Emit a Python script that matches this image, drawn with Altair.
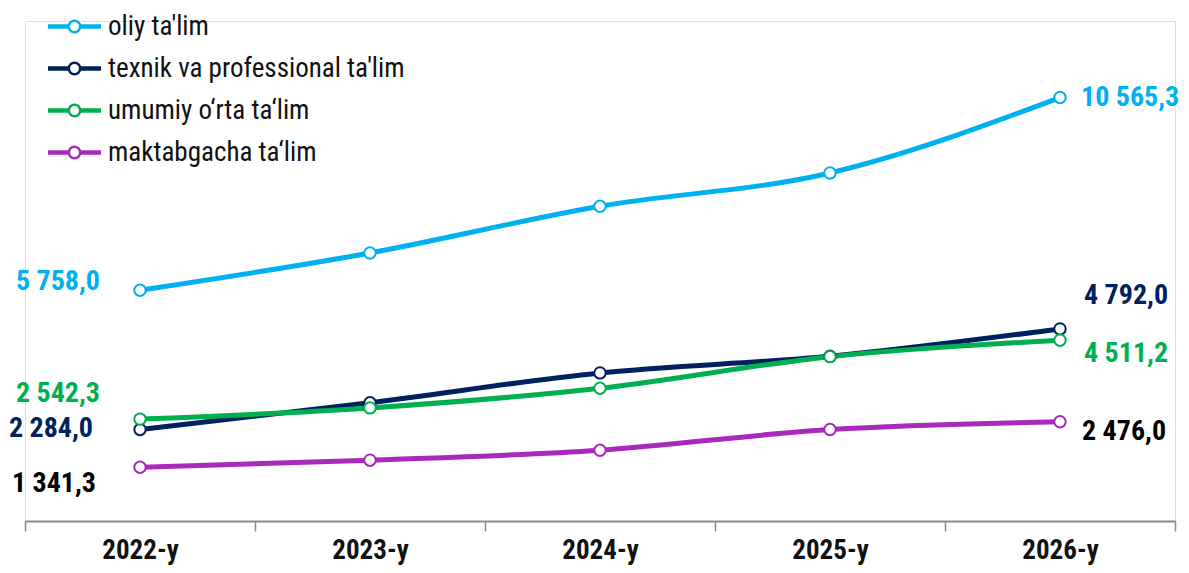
import altair as alt
import pandas as pd

years = ["2022-y", "2023-y", "2024-y", "2025-y", "2026-y"]
series = ["oliy ta'lim", "texnik va professional ta'lim", "umumiy o‘rta ta‘lim", "maktabgacha ta‘lim"]
colors = ["#00B0F0", "#002060", "#00B050", "#A829BB"]
oliy = [5758.0, 6688, 7853, 8684, 10565.3]
texnik = [2284.0, 2950, 3695, 4111, 4792.0]
umumiy = [2542.3, 2822, 3313, 4100, 4511.2]
maktab = [1341.3, 1517, 1766, 2283, 2476.0]

values = [oliy, texnik, umumiy, maktab]
rows = []
for s, vals in zip(series, values):
    for y, v in zip(years, vals):
        rows.append({"year": y, "series": s, "value": v})
df = pd.DataFrame(rows)


def fmt(v):
    return f"{v:,.1f}".replace(",", " ").replace(".", ",")


df["label"] = df["value"].apply(fmt)

FONT = "Liberation Sans Narrow, Roboto Condensed, Arial Narrow, DejaVu Sans Condensed, sans-serif"

xenc = alt.X(
    "year:N",
    sort=years,
    scale=alt.Scale(type="band", paddingInner=0, paddingOuter=0),
    axis=alt.Axis(
        title=None,
        tickBand="extent",
        domainColor="#8a8a8a",
        domainWidth=2,
        tickColor="#8a8a8a",
        tickWidth=1.5,
        tickSize=10,
        labelFont=FONT,
        labelFontSize=27,
        labelFontWeight="bold",
        labelColor="#111111",
        labelPadding=6,
        labelAngle=0,
    ),
)
yenc = alt.Y("value:Q", scale=alt.Scale(domain=[0, 12475], nice=False, zero=True), axis=None)

sym_path = (
    "M-2,-0.075H-0.45M-2,0.075H-0.45M0.45,-0.075H2M0.45,0.075H2"
    "M-0.43,0A0.43,0.43 0 1,0 0.43,0A0.43,0.43 0 1,0 -0.43,0"
)

color_scale = alt.Scale(domain=series, range=colors)

lines = alt.Chart(df).mark_line(interpolate="monotone", strokeWidth=5).encode(
    x=xenc,
    y=yenc,
    color=alt.Color(
        "series:N",
        scale=color_scale,
        sort=series,
        legend=alt.Legend(
            title=None,
            orient="none",
            legendX=35,
            legendY=-9,
            symbolType=sym_path,
            symbolSize=702,
            symbolStrokeWidth=2.5,
            symbolFillColor="white",
            labelFont=FONT,
            labelFontSize=27,
            labelColor="#111111",
            labelOffset=19,
            rowPadding=14,
            padding=0,
            labelLimit=500,
        ),
    ),
)

points = alt.Chart(df).mark_point(filled=True, fill="white", size=130, strokeWidth=2, opacity=1).encode(
    x=xenc,
    y=yenc,
    stroke=alt.Stroke("series:N", scale=color_scale, legend=None),
)

label_specs = [
    # series index, year index, color, align, dx, dy
    (0, 0, "#00B0F0", "right", -40, -8),
    (2, 0, "#00B050", "right", -40, -25),
    (1, 0, "#002060", "right", -47, 0),
    (3, 0, "#000000", "right", -44, 17),
    (0, 4, "#00B0F0", "left", 21, 0),
    (1, 4, "#002060", "left", 24, -33),
    (2, 4, "#00B050", "left", 24, 14),
    (3, 4, "#000000", "left", 22, 10),
]

layers = [lines, points]
for si, yi, col, al, dx, dy in label_specs:
    t = (
        alt.Chart(df)
        .transform_filter(
            (alt.datum.series == series[si]) & (alt.datum.year == years[yi])
        )
        .mark_text(
            font=FONT,
            fontSize=28,
            fontWeight="bold",
            color=col,
            align=al,
            baseline="middle",
            dx=dx,
            dy=dy,
        )
        .encode(x=xenc, y=yenc, text="label:N")
    )
    layers.append(t)

chart = (
    alt.layer(*layers)
    .properties(
        width=1150,
        height=500,
        autosize=alt.AutoSizeParams(type="none"),
        padding={"left": 17, "top": 13, "right": 6, "bottom": 44},
    )
    .configure_view(stroke=None)
    .configure(background="white")
)

chart.save("out.html", embed_options={"renderer": "svg", "actions": False})
